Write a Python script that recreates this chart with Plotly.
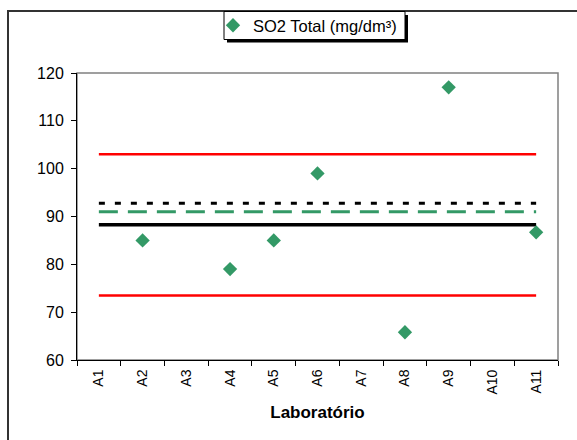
import plotly.graph_objects as go

# Laboratories on the x axis
labs = ["A1", "A2", "A3", "A4", "A5", "A6", "A7", "A8", "A9", "A10", "A11"]

# SO2 total results per laboratory (mg/dm3); None = no result reported
so2_total = [None, 85.0, None, 79.0, 85.0, 99.0, None, 65.8, 117.0, None, 86.7]

# Reference levels drawn across all laboratories
mean_level = 88.25
upper_limit = 103.0
lower_limit = 73.5
dotted_level = 92.75
green_level = 91.0

GREEN = "#339966"
FONT = "Liberation Sans, Arial, sans-serif"

fig = go.Figure()

def hline(level, color, width, dash):
    fig.add_trace(go.Scatter(
        x=labs, y=[level] * len(labs), mode="lines",
        line=dict(color=color, width=width, dash=dash),
        showlegend=False, hoverinfo="skip"))

hline(upper_limit, "#FF0000", 2.5, "solid")
hline(lower_limit, "#FF0000", 2.5, "solid")
hline(dotted_level, "#000000", 3, "6px,10px")
hline(green_level, GREEN, 3, "19px,10px")
hline(mean_level, "#000000", 3.5, "solid")

fig.add_trace(go.Scatter(
    x=labs, y=so2_total, mode="markers",
    marker=dict(symbol="diamond", size=11, color=GREEN),
    name="SO2 Total (mg/dm³)"))

L, R, T, B = 77, 19, 73, 80
W, H = 577, 440
pw, ph = W - L - R, H - T - B

def px_x(x):
    return (x - L) / pw

def px_y(y):
    return (H - B - y) / ph

shapes = [
    # outer chart frame
    dict(type="rect", xref="paper", yref="paper",
         x0=px_x(8), x1=px_x(590), y0=px_y(460), y1=px_y(11),
         line=dict(color="#333333", width=2), layer="below"),
    # plot area border
    dict(type="rect", xref="paper", yref="paper",
         x0=0, x1=1, y0=0, y1=1,
         line=dict(color="#808080", width=1.5), layer="below"),
    # legend box shadow
    dict(type="rect", xref="paper", yref="paper",
         x0=px_x(227), x1=px_x(408), y0=px_y(42.5), y1=px_y(15),
         fillcolor="#000000", line=dict(width=0), layer="above"),
    # legend box
    dict(type="rect", xref="paper", yref="paper",
         x0=px_x(224), x1=px_x(405), y0=px_y(39.5), y1=px_y(11.5),
         fillcolor="white", line=dict(color="black", width=1), layer="above"),
]

fig.update_layout(
    width=W, height=H,
    margin=dict(l=L, r=R, t=T, b=B, autoexpand=False),
    paper_bgcolor="white", plot_bgcolor="white",
    font=dict(family=FONT, color="black"),
    shapes=shapes,
    showlegend=True,
    legend=dict(
        x=px_x(213), xanchor="left", y=px_y(25.5), yanchor="middle",
        bgcolor="rgba(0,0,0,0)", borderwidth=0,
        font=dict(size=16.5, family=FONT), itemwidth=30,
    ),
    xaxis=dict(
        type="category", categoryorder="array", categoryarray=labs,
        range=[-0.5, len(labs) - 0.5],
        showline=True, linecolor="black", linewidth=1,
        ticks="outside", ticklen=5, tickcolor="black", tickson="boundaries",
        tickangle=-90, tickfont=dict(size=14), ticklabelstandoff=3,
        showgrid=False, zeroline=False,
        title=dict(text="<b>Laboratório</b>", font=dict(size=17), standoff=12),
    ),
    yaxis=dict(
        range=[60, 120], dtick=10,
        showline=True, linecolor="black", linewidth=1,
        ticks="outside", ticklen=5, tickcolor="black",
        tickfont=dict(size=16), ticklabelstandoff=4,
        showgrid=False, zeroline=False,
    ),
)

fig.write_html("out.html")
